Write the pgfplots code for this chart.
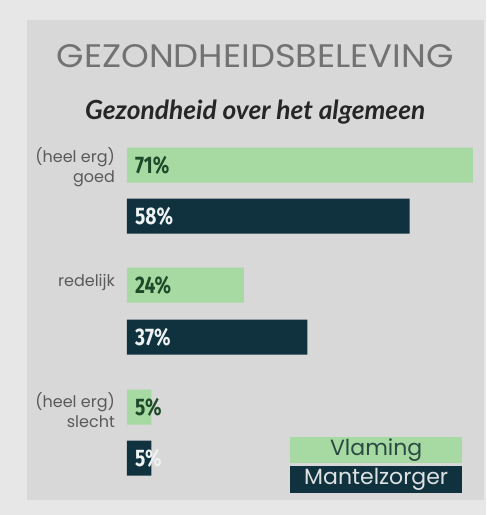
\documentclass[border=0pt]{standalone}
\usepackage{pgfplots}
\pgfplotsset{compat=1.18}
\usepackage{pgfplotstable}
\usepackage{graphicx}
\usepackage{fontspec}
\setmainfont{Poppins}
\newfontfamily\valfont{Fira Sans}[FakeStretch=0.8]
\newfontfamily\subfont{Lato}
\definecolor{outerbg}{HTML}{E7E7E7}
\definecolor{panel}{HTML}{D8D8D8}
\definecolor{vgreen}{HTML}{A7DAA2}
\definecolor{navy}{HTML}{10323F}
\definecolor{titlegray}{HTML}{727272}
\definecolor{labgray}{HTML}{5A5A5A}
\definecolor{dgreen}{HTML}{1E4A2A}
\definecolor{lighttxt}{HTML}{EEF2F2}
\definecolor{legtxt}{HTML}{2C4A44}

\pgfplotstableread{
y val
165 71
285 24
407 5
}\vlaming
\pgfplotstableread{
y val
216 58
337 37
458 5
}\mantel

\begin{document}
\begin{tikzpicture}
\begin{axis}[
  scale only axis, width=486pt, height=515pt,
  xmin=-26.06, xmax=73.67, ymin=0, ymax=515, y dir=reverse,
  axis line style={draw=none}, xtick=\empty, ytick=\empty,
  clip=false,
  /pgf/number format/assume math mode=true,
  axis background/.style={fill=outerbg},
]
\fill[panel] (axis cs:-20.5,20) rectangle (axis cs:73.3,500);
% title and subtitle
\node[text=titlegray, anchor=center] at (axis cs:26.3,56.5)
  {\resizebox{397pt}{23pt}{GEZONDHEIDSBELEVING}};
\node[text=black!85, anchor=base] at (axis cs:26.3,119)
  {\resizebox{340pt}{!}{\subfont\bfseries\itshape Gezondheid over het algemeen}};
% bars
\addplot[xbar, bar width=35pt, bar shift=0pt, fill=vgreen, draw=none] table[x=val, y=y] {\vlaming};
\addplot[xbar, bar width=35pt, bar shift=0pt, fill=navy, draw=none] table[x=val, y=y] {\mantel};
% value labels
\addplot[draw=none, nodes near coords={\pgfmathprintnumber[assume math mode=true]{\pgfplotspointmeta}\%},
  point meta=explicit, nodes near coords align=horizontal,
  every node near coord/.append style={text=dgreen, font=\valfont\bfseries\fontsize{24}{24}\selectfont, inner sep=0pt}]
  table[x expr=1.64, y=y, meta=val] {\vlaming};
\addplot[draw=none, nodes near coords={\pgfmathprintnumber[assume math mode=true]{\pgfplotspointmeta}\%},
  point meta=explicit, nodes near coords align=horizontal,
  every node near coord/.append style={text=lighttxt, font=\valfont\bfseries\fontsize{24}{24}\selectfont, inner sep=0pt}]
  table[x expr=1.64, y=y, meta=val] {\mantel};
% category labels
\node[anchor=east, align=right, text=labgray, font=\fontsize{16}{20}\selectfont, inner sep=0pt] at (axis cs:-2.45,167) {(heel erg)\\goed};
\node[anchor=east, align=right, text=labgray, font=\fontsize{16}{20}\selectfont, inner sep=0pt] at (axis cs:-2.45,282) {redelijk};
\node[anchor=east, align=right, text=labgray, font=\fontsize{16}{20}\selectfont, inner sep=0pt] at (axis cs:-2.45,410) {(heel erg)\\slecht};
% legend
\node[fill=vgreen, text=legtxt, minimum width=172pt, minimum height=26pt, inner sep=0pt, anchor=north west,
  font=\fontsize{22}{22}\selectfont] at (axis cs:33.45,437) {Vlaming};
\node[fill=navy, text=lighttxt!85!gray, minimum width=172pt, minimum height=27pt, inner sep=0pt, anchor=north west,
  font=\fontsize{22}{22}\selectfont] at (axis cs:33.45,466) {Mantelzorger};
\end{axis}
\end{tikzpicture}
\end{document}
